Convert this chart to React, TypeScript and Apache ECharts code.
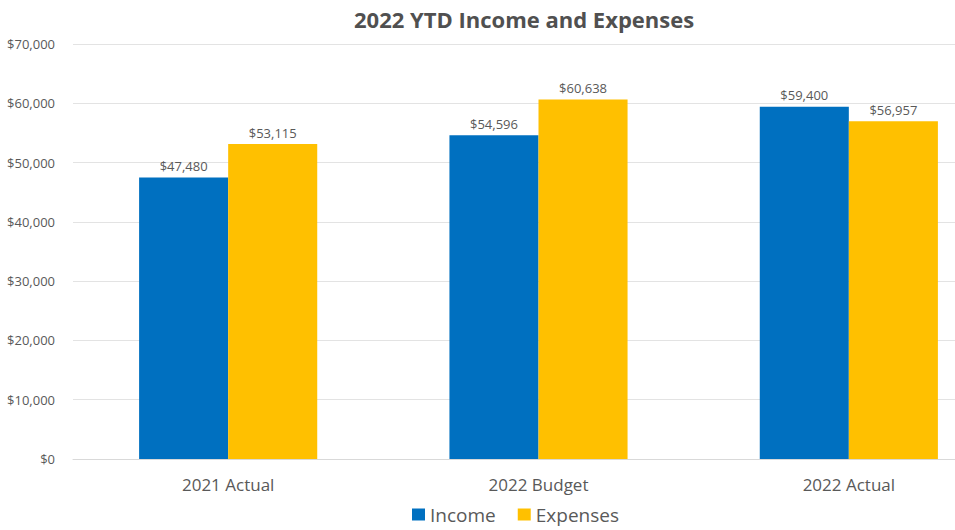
import React, { useEffect, useRef } from "react";
import * as echarts from "echarts";

const categories = ["2021 Actual", "2022 Budget", "2022 Actual"];
const income = [47480, 54596, 59400];
const expenses = [53115, 60638, 56957];
const yTicks = { min: 0, max: 70000, interval: 10000 };

const fmt = (v: number) => "$" + v.toLocaleString("en-US");

export default function App() {
  const ref = useRef<HTMLDivElement>(null);
  useEffect(() => {
    document.body.style.margin = "0";
    const chart = echarts.init(ref.current!, null, { renderer: "svg" });
    const font = "Open Sans";
    const grey = "#595959";
    chart.setOption({
      animation: false,
      textStyle: { fontFamily: font },
      title: {
        text: "2022 YTD Income and Expenses",
        left: 349,
        top: 3,
        textStyle: { fontFamily: font, fontSize: 22, fontWeight: "bold", color: "#505050" },
      },
      legend: {
        left: 412,
        top: 505,
        icon: "rect",
        itemWidth: 13,
        itemHeight: 12,
        itemGap: 22,
        padding: 0,
        textStyle: { fontFamily: font, fontSize: 19, color: grey, padding: [0, 0, 0, 0] },
        data: ["Income", "Expenses"],
      },
      grid: { left: 73, right: 0, top: 44, bottom: 71, containLabel: false },
      xAxis: {
        type: "category",
        data: categories,
        axisLine: { lineStyle: { color: "#d9d9d9" } },
        axisTick: { show: false },
        axisLabel: { fontFamily: font, fontSize: 17, color: grey, margin: 17 },
      },
      yAxis: {
        type: "value",
        min: yTicks.min,
        max: yTicks.max,
        interval: yTicks.interval,
        axisLine: { show: false },
        axisTick: { show: false },
        splitLine: { lineStyle: { color: "#e3e3e3" } },
        axisLabel: { fontFamily: font, fontSize: 13, color: grey, margin: 18, formatter: (v: number) => fmt(v) },
      },
      series: [
        {
          name: "Income",
          type: "bar",
          data: income,
          barGap: "0%",
          barCategoryGap: "42.6%",
          itemStyle: { color: "#0070C0" },
          label: { show: true, position: "top", distance: 5, fontFamily: font, fontSize: 13, color: grey, formatter: (p: any) => fmt(p.value) },
        },
        {
          name: "Expenses",
          type: "bar",
          data: expenses,
          barGap: "0%",
          barCategoryGap: "42.6%",
          itemStyle: { color: "#FFC000" },
          label: { show: true, position: "top", distance: 5, fontFamily: font, fontSize: 13, color: grey, formatter: (p: any) => fmt(p.value) },
        },
      ],
    });
    return () => chart.dispose();
  }, []);
  return (
    <div style={{ width: 955, height: 530, overflow: "hidden" }}>
      <div ref={ref} style={{ width: 1004, height: 530 }} />
    </div>
  );
}
